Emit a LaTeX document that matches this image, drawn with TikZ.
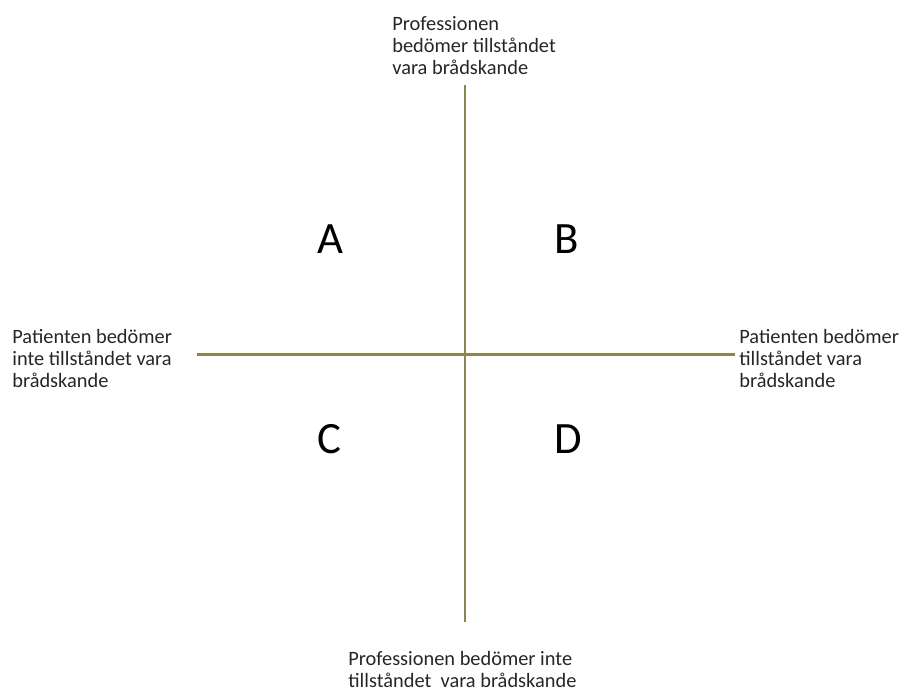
\documentclass[tikz,border=0pt]{standalone}
\usepackage{fontspec}
\setmainfont{Carlito}
\usepackage{tikz}
\usetikzlibrary{positioning}
\definecolor{axisolive}{RGB}{138,133,82}
\definecolor{labelgrey}{RGB}{38,38,38}

\begin{document}
\begin{tikzpicture}[x=0.02cm,y=-0.02cm,
    axisline/.style={draw=axisolive,line width=1.7pt},
    axislabel/.style={anchor=base west,align=left,inner sep=0pt,text=labelgrey,
      font=\fontsize{11.6}{12.5}\selectfont},
    quadrant/.style={anchor=base,inner sep=0pt,font=\fontsize{25.5}{30}\selectfont}]
   \useasboundingbox (0,0) rectangle (904,691);

   % axes
   \coordinate (top) at (465,85);
   \coordinate (bot) at (465,622);
   \coordinate (lft) at (197,354);
   \coordinate (rgt) at (735,354);
   \draw[axisline] (top) -- (bot);
   \draw[axisline] (lft) -- (rgt);

   % quadrants
   \node[quadrant] (A) at (330,253) {A};
   \node[quadrant] (B) at (567,253) {B};
   \node[quadrant] (C) at (329,453) {C};
   \node[quadrant] (D) at (568,453) {D};

   % axis labels (base = last line)
   \node[axislabel] (proffyes) at (392,74) {Professionen\\bedömer tillståndet\\vara brådskande};
   \node[axislabel] (proffno) at (348,687) {Professionen bedömer inte\\tillståndet~ vara brådskande};
   \node[axislabel] (patno) at (12,387) {Patienten bedömer\\inte tillståndet vara\\brådskande};
   \node[axislabel] (patyes) at (739,387) {Patienten bedömer\\tillståndet vara\\brådskande};
\end{tikzpicture}
\end{document}
